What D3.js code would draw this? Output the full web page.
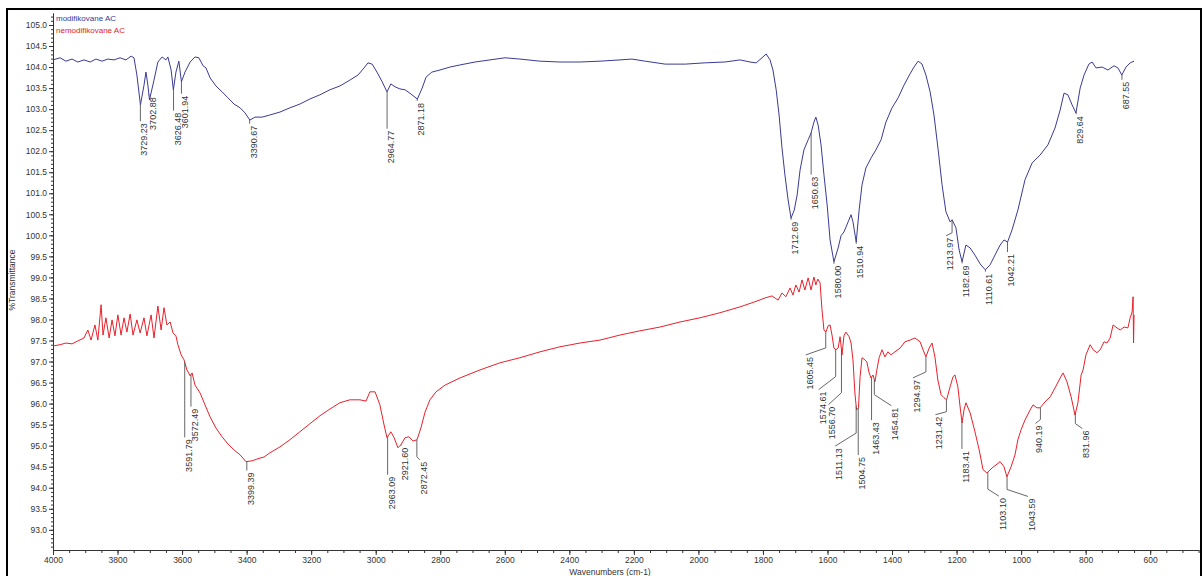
<!DOCTYPE html>
<html>
<head>
<meta charset="utf-8">
<script src="https://cdn.jsdelivr.net/npm/d3@7"></script>
<style>
  body { margin: 0; background: #fff; }
  svg { display: block; }
</style>
</head>
<body>
<div id="chart"></div>
<script>
// spectra: [wavenumber cm-1, %T]
const modifikovaneAC = [
  [4000,104.17],[3978,104.22],[3960,104.14],[3941,104.19],[3923,104.12],[3904,104.17],[3885,104.12],[3867,104.19],
  [3848,104.14],[3830,104.19],[3811,104.17],[3792,104.22],[3774,104.17],[3758,104.26],[3749,104.22],[3740,103.81],
  [3729,103.10],[3718,103.57],[3712,103.88],[3706,103.57],[3701,103.22],[3687,103.69],[3675,104.12],[3662,104.24],
  [3650,104.17],[3644,104.24],[3634,103.93],[3627,103.46],[3619,103.88],[3610,104.14],[3602,103.65],[3591,103.88],
  [3575,104.12],[3560,104.24],[3548,104.22],[3535,104.03],[3526,103.98],[3513,103.74],[3495,103.55],[3476,103.41],
  [3458,103.27],[3439,103.12],[3420,103.03],[3405,102.91],[3390,102.74],[3374,102.81],[3352,102.81],[3328,102.86],
  [3297,102.93],[3266,103.03],[3235,103.12],[3204,103.24],[3173,103.34],[3142,103.46],[3111,103.55],[3080,103.69],
  [3055,103.81],[3036,103.98],[3024,104.10],[3011,104.07],[2996,103.88],[2980,103.65],[2965,103.41],[2953,103.60],
  [2940,103.53],[2925,103.48],[2909,103.46],[2891,103.36],[2871,103.24],[2856,103.50],[2844,103.76],[2826,103.88],
  [2801,103.93],[2770,104.00],[2739,104.05],[2692,104.12],[2646,104.17],[2599,104.22],[2553,104.19],[2491,104.14],
  [2429,104.12],[2367,104.12],[2305,104.14],[2243,104.17],[2206,104.19],[2165,104.14],[2103,104.07],[2041,104.07],
  [1980,104.10],[1918,104.12],[1871,104.17],[1840,104.12],[1821,104.10],[1803,104.22],[1790,104.31],[1778,104.17],
  [1769,103.93],[1759,103.46],[1750,102.86],[1741,102.08],[1732,101.44],[1722,100.84],[1713,100.41],[1703,100.60],
  [1694,100.96],[1685,101.55],[1673,102.03],[1660,102.27],[1651,102.43],[1642,102.69],[1636,102.81],[1629,102.62],
  [1620,102.15],[1611,101.44],[1601,100.72],[1592,99.89],[1580,99.37],[1567,99.70],[1558,99.99],[1549,100.08],
  [1536,100.32],[1527,100.49],[1521,100.32],[1511,99.84],[1502,100.60],[1493,101.20],[1481,101.60],[1465,101.84],
  [1450,102.03],[1434,102.27],[1419,102.69],[1400,103.03],[1381,103.27],[1363,103.57],[1344,103.84],[1332,104.00],
  [1319,104.14],[1307,104.07],[1295,103.81],[1282,103.41],[1270,102.86],[1257,102.03],[1245,101.20],[1233,100.56],
  [1220,100.32],[1214,100.37],[1202,100.18],[1192,99.65],[1183,99.37],[1171,99.77],[1158,99.70],[1143,99.53],
  [1127,99.32],[1111,99.18],[1096,99.30],[1081,99.53],[1065,99.77],[1053,99.89],[1042,99.84],[1028,100.13],
  [1010,100.60],[988,101.32],[966,101.72],[941,101.91],[917,102.15],[895,102.55],[879,102.98],[867,103.38],
  [855,103.34],[842,103.10],[830,102.91],[817,103.50],[805,103.81],[790,104.07],[780,104.12],[768,103.98],
  [749,104.00],[731,103.93],[712,104.03],[700,103.98],[688,103.81],[675,104.00],[662,104.10],[650,104.14]
];

const nemodifikovaneAC = [
  [4000,97.37],[3978,97.40],[3960,97.44],[3941,97.42],[3923,97.49],[3904,97.56],[3892,97.75],[3882,97.51],
  [3870,97.87],[3861,97.51],[3851,98.35],[3845,97.63],[3836,98.04],[3826,97.56],[3817,97.99],[3808,97.61],
  [3799,98.11],[3789,97.63],[3780,98.04],[3771,97.70],[3761,98.13],[3752,97.63],[3740,97.99],[3730,97.68],
  [3718,98.04],[3709,97.61],[3696,98.11],[3687,97.56],[3675,98.32],[3665,97.75],[3656,98.28],[3647,97.87],
  [3637,97.94],[3628,97.68],[3619,97.61],[3613,97.40],[3603,97.16],[3594,97.04],[3585,96.80],[3575,96.66],
  [3569,96.73],[3560,96.44],[3544,96.25],[3529,95.97],[3513,95.68],[3495,95.42],[3476,95.21],[3458,95.04],
  [3439,94.90],[3420,94.78],[3402,94.62],[3383,94.64],[3365,94.69],[3346,94.73],[3328,94.83],[3297,94.97],
  [3266,95.14],[3235,95.33],[3204,95.52],[3173,95.71],[3142,95.87],[3111,96.02],[3080,96.09],[3049,96.09],
  [3030,96.06],[3018,96.28],[3002,96.28],[2987,95.97],[2974,95.49],[2965,95.19],[2953,95.33],[2943,95.19],
  [2931,94.95],[2922,95.02],[2909,95.19],[2897,95.21],[2884,95.11],[2872,95.14],[2860,95.42],[2847,95.80],
  [2832,96.09],[2813,96.28],[2785,96.44],[2739,96.61],[2677,96.80],[2615,96.97],[2553,97.09],[2491,97.23],
  [2429,97.35],[2367,97.44],[2305,97.51],[2243,97.63],[2181,97.73],[2119,97.82],[2057,97.94],[1995,98.04],
  [1933,98.16],[1871,98.30],[1825,98.42],[1794,98.51],[1772,98.56],[1753,98.46],[1741,98.63],[1729,98.54],
  [1716,98.75],[1707,98.58],[1698,98.82],[1688,98.65],[1679,98.94],[1670,98.70],[1660,98.99],[1651,98.70],
  [1642,99.01],[1636,98.82],[1630,98.96],[1623,98.87],[1617,98.23],[1611,97.75],[1605,97.70],[1598,97.85],
  [1592,97.87],[1586,97.63],[1580,97.32],[1574,97.28],[1567,97.32],[1561,97.59],[1555,97.16],[1549,97.61],
  [1543,97.70],[1533,97.59],[1527,97.44],[1521,97.04],[1515,96.25],[1510,95.85],[1504,95.90],[1499,96.64],
  [1493,97.09],[1484,97.04],[1478,96.99],[1471,96.73],[1465,96.61],[1459,96.68],[1453,96.52],[1447,96.80],
  [1440,97.09],[1431,97.28],[1422,97.11],[1413,97.23],[1403,97.16],[1391,97.23],[1375,97.32],[1360,97.47],
  [1344,97.51],[1329,97.56],[1313,97.47],[1304,97.28],[1295,97.11],[1285,97.32],[1276,97.44],[1267,97.11],
  [1258,96.56],[1248,96.21],[1239,96.14],[1231,96.09],[1220,96.40],[1211,96.64],[1205,96.68],[1196,96.40],
  [1189,95.92],[1183,95.54],[1177,95.85],[1171,96.02],[1158,95.78],[1143,95.33],[1130,94.90],[1118,94.43],
  [1106,94.35],[1090,94.47],[1065,94.62],[1053,94.50],[1044,94.26],[1031,94.50],[1019,94.78],[1010,95.14],
  [1000,95.38],[988,95.61],[972,95.85],[963,95.97],[951,95.90],[941,95.90],[926,96.04],[910,96.16],
  [895,96.37],[879,96.61],[870,96.73],[858,96.52],[845,96.16],[833,95.73],[824,96.02],[814,96.68],
  [808,96.80],[799,97.16],[786,97.40],[777,97.28],[765,97.21],[755,97.28],[743,97.47],[734,97.44],
  [724,97.56],[715,97.87],[703,97.80],[693,97.75],[681,97.82],[669,97.80],[662,98.04],[656,98.18],
  [653,98.54],[651.6,97.44],[650,98.11]
];

const seriesNames = ['modifikovane AC', 'nemodifikovane AC'];
const seriesColors = ['#3a3a96', '#e8202a'];

// labelled peaks
const modifikovanePeaks = [3729.23, 3702.88, 3626.48, 3601.94, 3390.67, 2964.77, 2871.18, 1712.69, 1650.63,
  1580.00, 1510.94, 1213.97, 1182.69, 1110.61, 1042.21, 829.64, 687.55];
const nemodifikovanePeaks = [3591.79, 3572.49, 3399.39, 2963.09, 2921.60, 2872.45, 1605.45, 1574.61, 1556.70,
  1511.13, 1504.75, 1463.43, 1454.81, 1294.97, 1231.42, 1183.41, 1103.10, 1043.59, 940.19, 831.96];

// leader geometry in px: [vertical drop, dx, dy]
const modifikovaneLeaders = [[17,0,0],[1,0,0],[22,0,0],[12,0,0],[4,0,0],[37,0,0],[2,0,0],[2,0,0],[42,0,0],
  [2,0,0],[2,0,0],[13,-6,3],[2,0,0],[2,0,0],[10,0,0],[2,0,0],[5,0,0]];
const nemodifikovaneLeaders = [[75,0,0],[32,0,0],[9,0,0],[38,0,0],[1,0,0],[17,3,3],[16,-20,7],[27,-17,13],
  [43,-13,12],[27,-21,13],[47,0,0],[43,0,0],[15,17,11],[15,-13,6],[12,-11,3],[27,0,0],[17,11,7],[13,21,7],
  [12,-5,4],[10,7,5]];

const xTickValues = [4000, 3800, 3600, 3400, 3200, 3000, 2800, 2600, 2400, 2200, 2000, 1800, 1600, 1400, 1200, 1000, 800, 600];
const yTickValues = [93.0, 93.5, 94.0, 94.5, 95.0, 95.5, 96.0, 96.5, 97.0, 97.5, 98.0, 98.5, 99.0, 99.5,
  100.0, 100.5, 101.0, 101.5, 102.0, 102.5, 103.0, 103.5, 104.0, 104.5, 105.0];

const width = 1204, height = 576;
const font = 'Liberation Sans, Arial, sans-serif';

const x = d3.scaleLinear().domain([4000, 450]).range([53, 1198.6]);
const y = d3.scaleLinear().domain([92.52, 105.285]).range([550, 13]);

const svg = d3.select('#chart').append('svg')
  .attr('width', width)
  .attr('height', height)
  .attr('font-family', font);

// outer frame
svg.append('rect')
  .attr('x', 7).attr('y', 9)
  .attr('width', 1194).attr('height', 600)
  .attr('fill', 'none')
  .attr('stroke', '#000')
  .attr('stroke-width', 2);

// x axis (minor ticks first, then majors with labels)
svg.append('g')
  .attr('transform', `translate(0,${y.range()[0]})`)
  .call(d3.axisBottom(x).tickValues(d3.range(450, 4001, 50)).tickSize(3).tickSizeOuter(0).tickFormat(''))
  .call(g => g.selectAll('line,path').attr('stroke', '#333'));

svg.append('g')
  .attr('transform', `translate(0,${y.range()[0]})`)
  .call(d3.axisBottom(x).tickValues(xTickValues).tickSize(5).tickPadding(2).tickSizeOuter(0).tickFormat(d3.format('d')))
  .call(g => g.selectAll('line,path').attr('stroke', '#333'))
  .call(g => g.selectAll('text').attr('font-family', font).attr('font-size', 8.5).attr('fill', '#333'));

// y axis
svg.append('g')
  .attr('transform', `translate(${x.range()[0]},0)`)
  .call(d3.axisLeft(y).tickValues(d3.range(926, 1053, 1).map(v => v / 10)).tickSize(2).tickSizeOuter(0).tickFormat(''))
  .call(g => g.selectAll('line,path').attr('stroke', '#333'));

svg.append('g')
  .attr('transform', `translate(${x.range()[0]},0)`)
  .call(d3.axisLeft(y).tickValues(yTickValues).tickSize(4).tickPadding(2).tickSizeOuter(0).tickFormat(d3.format('.1f')))
  .call(g => g.selectAll('line,path').attr('stroke', '#333'))
  .call(g => g.selectAll('text').attr('font-family', font).attr('font-size', 8.5).attr('fill', '#333'));

// axis titles
svg.append('text')
  .attr('x', 610).attr('y', 575)
  .attr('text-anchor', 'middle')
  .attr('font-size', 8.5).attr('fill', '#333')
  .text('Wavenumbers (cm-1)');

svg.append('text')
  .attr('transform', 'translate(15,280) rotate(-90)')
  .attr('text-anchor', 'middle')
  .attr('font-size', 8.5).attr('fill', '#333')
  .text('%Transmittance');

// spectra
const line = d3.line()
  .x(d => x(d[0]))
  .y(d => y(d[1]));

[modifikovaneAC, nemodifikovaneAC].forEach((s, i) => {
  svg.append('path')
    .datum(s)
    .attr('d', line)
    .attr('fill', 'none')
    .attr('stroke', seriesColors[i])
    .attr('stroke-width', 1)
    .attr('stroke-linejoin', 'round');
});

// legend
seriesNames.forEach((name, i) => {
  svg.append('text')
    .attr('x', 56).attr('y', 21 + i * 12)
    .attr('font-size', 8)
    .attr('fill', seriesColors[i])
    .text(name);
});

// value of a series at a given wavenumber (data is sorted descending)
const bis = d3.bisector(d => -d[0]).left;
function valueAt(series, wn) {
  const i = Math.max(1, Math.min(series.length - 1, bis(series, -wn)));
  const a = series[i - 1], b = series[i];
  const t = (wn - a[0]) / (b[0] - a[0]);
  return a[1] + t * (b[1] - a[1]);
}

// peak labels with leader lines
function drawPeaks(series, peaks, leaders) {
  peaks.forEach((wn, i) => {
    const [drop, dx, dy] = leaders[i];
    const x0 = x(wn), y0 = y(valueAt(series, wn));
    const x1 = x0, y1 = y0 + drop;
    const x2 = x1 + dx, y2 = y1 + dy;

    svg.append('polyline')
      .attr('points', [[x0, y0], [x1, y1], [x2, y2]].map(p => p.join(',')).join(' '))
      .attr('fill', 'none')
      .attr('stroke', '#555')
      .attr('stroke-width', 0.9);

    svg.append('text')
      .attr('transform', `translate(${x2 + 4},${y2 + 2}) rotate(-90)`)
      .attr('text-anchor', 'end')
      .attr('dominant-baseline', 'central')
      .attr('font-size', 9)
      .attr('fill', '#333')
      .text(wn.toFixed(2));
  });
}

drawPeaks(modifikovaneAC, modifikovanePeaks, modifikovaneLeaders);
drawPeaks(nemodifikovaneAC, nemodifikovanePeaks, nemodifikovaneLeaders);
</script>
</body>
</html>
